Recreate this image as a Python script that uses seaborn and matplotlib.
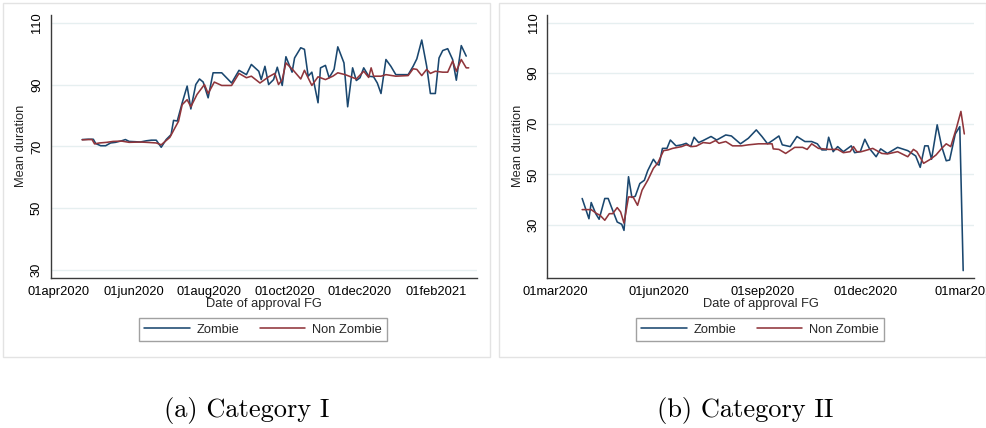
import numpy as np
import pandas as pd
import matplotlib
matplotlib.use("Agg")
import matplotlib.pyplot as plt
import matplotlib.dates as mdates
from matplotlib.patches import Rectangle
import seaborn as sns

# ---------------- data: Category I ----------------
cat1_zombie_dates = [
    "2020-04-20", "2020-04-25", "2020-04-29", "2020-05-01", "2020-05-05", "2020-05-09",
    "2020-05-13", "2020-05-17", "2020-05-22", "2020-05-25", "2020-05-28", "2020-06-02",
    "2020-06-06", "2020-06-11", "2020-06-15", "2020-06-19", "2020-06-23", "2020-06-27",
    "2020-07-01", "2020-07-03", "2020-07-06", "2020-07-10", "2020-07-14", "2020-07-17",
    "2020-07-21", "2020-07-24", "2020-07-27", "2020-07-31", "2020-08-04", "2020-08-11",
    "2020-08-19", "2020-08-25", "2020-08-31", "2020-09-04", "2020-09-10", "2020-09-12",
    "2020-09-15", "2020-09-18", "2020-09-22", "2020-09-25", "2020-09-29", "2020-10-02",
    "2020-10-07", "2020-10-09", "2020-10-14", "2020-10-17", "2020-10-20", "2020-10-23",
    "2020-10-28", "2020-10-30", "2020-11-03", "2020-11-06", "2020-11-10", "2020-11-13",
    "2020-11-18", "2020-11-21", "2020-11-25", "2020-11-28", "2020-12-01", "2020-12-04",
    "2020-12-08", "2020-12-12", "2020-12-15", "2020-12-18", "2020-12-22", "2020-12-26",
    "2020-12-30", "2021-01-09", "2021-01-13", "2021-01-16", "2021-01-20", "2021-01-24",
    "2021-01-27", "2021-01-31", "2021-02-03", "2021-02-06", "2021-02-10", "2021-02-14",
    "2021-02-17", "2021-02-21", "2021-02-25",
]
cat1_zombie_vals = [
    72.2, 72.3, 72.3, 70.9, 70.2, 70.2,
    71.1, 71.3, 71.8, 72.2, 71.6, 71.5,
    71.4, 71.8, 72.0, 72.0, 69.7, 72.2,
    73.8, 78.4, 78.2, 84.1, 89.5, 82.1,
    90.0, 91.8, 90.8, 85.7, 93.8, 93.8,
    90.5, 94.6, 93.2, 96.5, 94.3, 91.6,
    95.9, 90.0, 91.6, 95.6, 89.7, 99.0,
    94.0, 98.6, 101.9, 101.4, 92.7, 94.0,
    84.1, 95.4, 96.2, 92.2, 94.9, 102.2,
    97.0, 82.8, 95.4, 91.3, 92.2, 95.4,
    92.7, 92.5, 90.5, 87.1, 98.1, 95.9,
    93.2, 93.2, 95.9, 98.3, 104.4, 95.9,
    87.1, 87.1, 98.6, 101.0, 101.6, 98.1,
    91.4, 102.6, 99.2,
]
cat1_nonzombie_dates = [
    "2020-04-20", "2020-04-25", "2020-04-28", "2020-04-30", "2020-05-04", "2020-05-10",
    "2020-05-15", "2020-05-22", "2020-05-28", "2020-06-06", "2020-06-11", "2020-06-19",
    "2020-06-23", "2020-06-30", "2020-07-04", "2020-07-07", "2020-07-10", "2020-07-14",
    "2020-07-17", "2020-07-22", "2020-07-28", "2020-07-31", "2020-08-05", "2020-08-11",
    "2020-08-19", "2020-08-25", "2020-08-31", "2020-09-04", "2020-09-11", "2020-09-18",
    "2020-09-23", "2020-09-26", "2020-09-29", "2020-10-02", "2020-10-08", "2020-10-14",
    "2020-10-17", "2020-10-23", "2020-10-28", "2020-11-03", "2020-11-09", "2020-11-13",
    "2020-11-19", "2020-11-28", "2020-12-04", "2020-12-08", "2020-12-10", "2020-12-12",
    "2020-12-18", "2020-12-22", "2020-12-30", "2021-01-09", "2021-01-13", "2021-01-16",
    "2021-01-20", "2021-01-24", "2021-01-27", "2021-01-31", "2021-02-06", "2021-02-10",
    "2021-02-14", "2021-02-17", "2021-02-21", "2021-02-25", "2021-02-27",
]
cat1_nonzombie_vals = [
    72.1, 72.2, 72.2, 70.8, 71.1, 71.3,
    71.6, 71.7, 71.3, 71.4, 71.3, 71.1,
    70.5, 72.9, 75.9, 78.1, 83.5, 85.1,
    82.8, 86.8, 90.0, 87.1, 90.8, 89.7,
    89.7, 93.6, 92.2, 92.7, 90.5, 92.5,
    93.6, 90.0, 91.6, 97.0, 94.6, 91.8,
    94.6, 89.7, 92.5, 91.6, 92.7, 93.8,
    93.2, 91.8, 94.3, 92.3, 95.4, 92.7,
    92.7, 93.2, 92.7, 92.9, 95.1, 94.9,
    92.9, 94.9, 93.6, 94.3, 94.0, 94.0,
    97.6, 94.3, 98.1, 95.4, 95.4,
]

# ---------------- data: Category II ----------------
cat2_zombie_dates = [
    "2020-03-25", "2020-03-31", "2020-04-02", "2020-04-06", "2020-04-09", "2020-04-14",
    "2020-04-17", "2020-04-21", "2020-04-25", "2020-04-29", "2020-05-01", "2020-05-05",
    "2020-05-08", "2020-05-11", "2020-05-15", "2020-05-19", "2020-05-22", "2020-05-27",
    "2020-05-30", "2020-06-01", "2020-06-04", "2020-06-08", "2020-06-11", "2020-06-16",
    "2020-06-21", "2020-06-25", "2020-06-29", "2020-07-02", "2020-07-06", "2020-07-10",
    "2020-07-17", "2020-07-22", "2020-07-30", "2020-08-04", "2020-08-12", "2020-08-19",
    "2020-08-26", "2020-08-31", "2020-09-05", "2020-09-10", "2020-09-15", "2020-09-18",
    "2020-09-25", "2020-10-01", "2020-10-08", "2020-10-14", "2020-10-19", "2020-10-23",
    "2020-10-27", "2020-10-29", "2020-11-02", "2020-11-06", "2020-11-11", "2020-11-18",
    "2020-11-21", "2020-11-26", "2020-11-30", "2020-12-04", "2020-12-10", "2020-12-14",
    "2020-12-20", "2020-12-29", "2021-01-07", "2021-01-14", "2021-01-18", "2021-01-22",
    "2021-01-25", "2021-01-28", "2021-02-02", "2021-02-06", "2021-02-10", "2021-02-13",
    "2021-02-18", "2021-02-22", "2021-02-25",
]
cat2_zombie_vals = [
    40.5, 32.5, 38.9, 34.5, 32.3, 40.5,
    40.5, 35.8, 31.2, 30.3, 27.9, 49.1,
    40.9, 41.4, 46.4, 47.7, 51.5, 56.0,
    54.1, 53.7, 60.3, 60.3, 63.6, 61.3,
    61.7, 62.3, 61.0, 64.7, 62.6, 63.4,
    65.0, 63.6, 65.6, 65.2, 62.1, 64.3,
    67.6, 65.0, 62.1, 63.6, 65.2, 61.7,
    61.0, 65.0, 63.0, 63.0, 62.1, 59.7,
    59.7, 64.7, 59.0, 61.0, 59.0, 61.3,
    58.6, 59.0, 63.9, 60.3, 57.0, 60.1,
    58.3, 60.7, 59.4, 57.3, 52.8, 61.3,
    61.3, 56.0, 69.6, 61.0, 55.4, 55.7,
    66.0, 68.9, 12.0,
]
cat2_nonzombie_dates = [
    "2020-03-25", "2020-04-02", "2020-04-07", "2020-04-10", "2020-04-14", "2020-04-18",
    "2020-04-21", "2020-04-25", "2020-04-28", "2020-05-01", "2020-05-05", "2020-05-09",
    "2020-05-13", "2020-05-17", "2020-05-22", "2020-05-27", "2020-05-31", "2020-06-05",
    "2020-06-09", "2020-06-13", "2020-06-21", "2020-06-25", "2020-06-30", "2020-07-04",
    "2020-07-10", "2020-07-16", "2020-07-21", "2020-07-24", "2020-07-30", "2020-08-05",
    "2020-08-13", "2020-08-19", "2020-08-28", "2020-09-09", "2020-09-10", "2020-09-15",
    "2020-09-21", "2020-09-29", "2020-10-06", "2020-10-10", "2020-10-14", "2020-10-20",
    "2020-10-29", "2020-11-06", "2020-11-11", "2020-11-17", "2020-11-20", "2020-11-23",
    "2020-11-27", "2020-12-07", "2020-12-15", "2020-12-20", "2020-12-29", "2021-01-07",
    "2021-01-12", "2021-01-15", "2021-01-21", "2021-01-27", "2021-02-01", "2021-02-06",
    "2021-02-10", "2021-02-14", "2021-02-19", "2021-02-23", "2021-02-26",
]
cat2_nonzombie_vals = [
    36.1, 36.1, 34.5, 33.8, 31.9, 34.5,
    34.5, 36.9, 35.2, 30.8, 41.1, 41.1,
    37.8, 43.8, 47.7, 52.4, 54.6, 59.4,
    59.7, 60.3, 61.0, 61.7, 61.0, 61.2,
    62.6, 62.3, 63.4, 62.3, 63.0, 61.3,
    61.3, 61.7, 62.1, 62.1, 60.1, 59.9,
    58.3, 60.7, 60.7, 59.9, 62.1, 60.3,
    59.9, 59.9, 58.6, 59.0, 61.0, 59.0,
    59.0, 60.3, 58.3, 58.1, 59.0, 57.0,
    59.9, 59.0, 54.4, 56.0, 57.7, 60.3,
    62.1, 61.0, 68.3, 74.9, 66.0,
]

y_ticks = [30, 50, 70, 90, 110]
cat1_xticks = ["2020-04-01", "2020-06-01", "2020-08-01", "2020-10-01", "2020-12-01", "2021-02-01"]
cat1_xticklabels = ["01apr2020", "01jun2020", "01aug2020", "01oct2020", "01dec2020", "01feb2021"]
cat2_xticks = ["2020-03-01", "2020-06-01", "2020-09-01", "2020-12-01", "2021-03-01"]
cat2_xticklabels = ["01mar2020", "01jun2020", "01sep2020", "01dec2020", "01mar2021"]
series_names = ["Zombie", "Non Zombie"]
captions = ["(a) Category I", "(b) Category II"]

# ---------------- style ----------------
sns.set_theme(style="white")
plt.rcParams["font.family"] = ["Liberation Sans", "DejaVu Sans"]

NAVY = "#1a476f"
MAROON = "#90353b"
GRID = "#e6eff0"
AX = "#3a3a3a"
FS = 9.3

W, H = 987, 428
fig = plt.figure(figsize=(W / 100, H / 100), dpi=100)
fig.patch.set_facecolor("white")


def fx(px):
    return px / W


def fy(py):
    return 1 - py / H


# panel frames
for (x0, x1) in [(3, 490), (499, 986)]:
    fig.patches.append(Rectangle((fx(x0), fy(357)), fx(x1 - x0), (357 - 3) / H,
                                 transform=fig.transFigure, fill=False,
                                 edgecolor="#e3e3e3", lw=1.0, zorder=0))

panels = [
    dict(left=50.7, right=476.7, xlim=("2020-03-25 12:00", "2021-03-05 12:00"), ylim=(27.5, 112.5),
         z=(cat1_zombie_dates, cat1_zombie_vals), nz=(cat1_nonzombie_dates, cat1_nonzombie_vals),
         xt=cat1_xticks, xtl=cat1_xticklabels, cap=captions[0], capx=246.5),
    dict(left=547.3, right=974.3, xlim=("2020-02-23 04:00", "2021-03-06 20:00"), ylim=(9.2, 113.0),
         z=(cat2_zombie_dates, cat2_zombie_vals), nz=(cat2_nonzombie_dates, cat2_nonzombie_vals),
         xt=cat2_xticks, xtl=cat2_xticklabels, cap=captions[1], capx=745),
]

top_px, bot_px = 15.0, 277.7
for p in panels:
    wpx = p["right"] - p["left"]
    ax = fig.add_axes([fx(p["left"]), fy(bot_px), fx(wpx), (bot_px - top_px) / H])
    dz = pd.DataFrame({"date": pd.to_datetime(p["z"][0]), "val": p["z"][1]})
    dn = pd.DataFrame({"date": pd.to_datetime(p["nz"][0]), "val": p["nz"][1]})
    sns.lineplot(data=dz, x="date", y="val", ax=ax, color=NAVY, lw=1.15,
                 estimator=None, label=series_names[0], zorder=3)
    sns.lineplot(data=dn, x="date", y="val", ax=ax, color=MAROON, lw=1.15,
                 estimator=None, label=series_names[1], zorder=4)
    ax.set_xlim(pd.to_datetime(p["xlim"][0]), pd.to_datetime(p["xlim"][1]))
    ax.set_ylim(*p["ylim"])
    ax.set_yticks(y_ticks)
    ax.set_yticklabels([str(v) for v in y_ticks], rotation=90, va="center", fontsize=FS)
    ax.set_xticks(pd.to_datetime(p["xt"]))
    ax.set_xticklabels(p["xtl"], fontsize=FS)
    ax.grid(axis="y", color=GRID, lw=1.0, zorder=0)
    ax.grid(axis="x", visible=False)
    for s in ["top", "right"]:
        ax.spines[s].set_visible(False)
    for s in ["left", "bottom"]:
        ax.spines[s].set_color(AX)
        ax.spines[s].set_linewidth(1.0)
    ax.tick_params(axis="both", direction="out", length=3.8, width=0.8, color=AX,
                   labelcolor="black", pad=2.5)
    ax.tick_params(axis="y", pad=1.8)
    ax.set_xlabel("Date of approval FG", fontsize=FS)
    ax.set_ylabel("Mean duration", fontsize=FS)
    ax.xaxis.set_label_coords(0.5, -(298.0 - bot_px) / (bot_px - top_px))
    ax.yaxis.set_label_coords(-23.5 / wpx, 0.5)
    cx = (p["left"] + p["right"]) / 2
    leg = ax.legend(loc="center", bbox_to_anchor=(fx(cx - 0.5), fy(329.5)),
                    bbox_transform=fig.transFigure, ncol=2, fontsize=FS,
                    frameon=True, fancybox=False, edgecolor="#8a8a8a",
                    handlelength=3.5, handletextpad=0.55, columnspacing=1.6,
                    borderpad=0.4, borderaxespad=0)
    leg.get_frame().set_linewidth(1.0)
    for ln in leg.get_lines():
        ln.set_linewidth(1.15)
    fig.text(fx(p["capx"]), fy(410), p["cap"], ha="center", va="center",
             fontsize=19, family=["cmr10", "DejaVu Serif"], color="black")

fig.savefig("out.png", dpi=100, facecolor="white")
